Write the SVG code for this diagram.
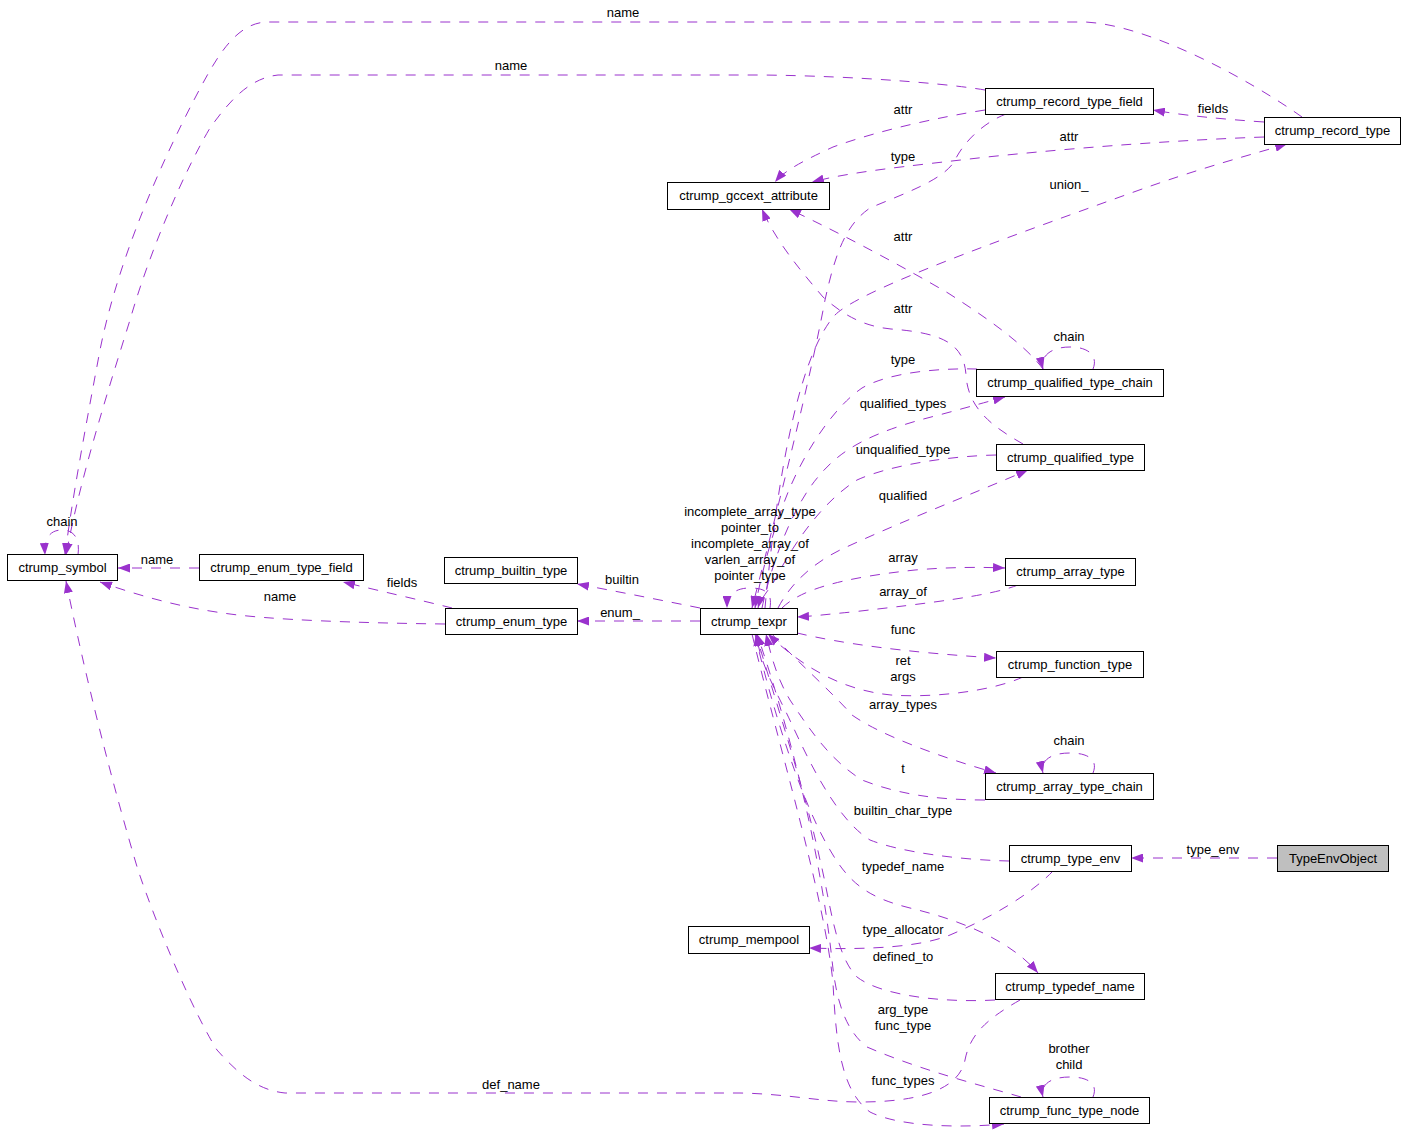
<svg xmlns="http://www.w3.org/2000/svg" width="1405" height="1137" viewBox="0 0 1405 1137">
<style>
.n rect{fill:#fff;stroke:#000;stroke-width:1}
.n text,.l text{font-family:"Liberation Sans",Arial,sans-serif;font-size:13px;fill:#000;text-anchor:middle}
.e path{fill:none;stroke:#9a32cd;stroke-width:1;stroke-dasharray:10,9;marker-end:url(#a)}
</style>
<defs>
<marker id="a" viewBox="0 0 12 9" refX="12" refY="4.5" markerWidth="12" markerHeight="9" markerUnits="userSpaceOnUse" orient="auto">
<path d="M0,0L12,4.5L0,9z" fill="#9a32cd" stroke="none"/>
</marker>
</defs>
<rect width="1405" height="1137" fill="#fff"/>
<g id="edges" class="e">
<path d="M1277,858 L1131,858"/>
<path d="M199,568 L118,568"/>
<path d="M700,621 L577,621"/>
<path d="M700,608 C660,600 620,592 577,584"/>
<path d="M452,608 C420,600 380,591 343,582"/>
<path d="M445,624 C360,623 268,620 223,613 C180,607 140,596 100,582"/>
<path d="M1302,117 C1250,80 1150,25 1085,22 L268,22 C235,22 215,60 195,98 C160,165 118,260 100,350 C85,430 72,500 65,555"/>
<path d="M985,90 C950,84 860,76 761,75 L278,75 C250,78 230,100 210,128 C185,170 150,250 130,320 C105,400 80,480 66,555"/>
<path d="M78,555 C80,540 75,530 62,530 C50,530 44,538 45,555"/>
<path d="M1020,1000 C985,1020 970,1035 965,1060 C960,1085 930,1102 860,1102 C820,1102 790,1094 740,1093 L285,1093 C255,1090 235,1070 217,1050 C195,1015 160,935 138,870 C120,810 90,700 66,581"/>
<path d="M1264,122 C1220,119 1180,115 1153,110"/>
<path d="M985,110 C940,117 880,130 833,147 C805,160 785,170 775,182"/>
<path d="M1264,137 C1180,140 1083,147 987,157 C900,167 850,172 812,182"/>
<path d="M1043,369 C1025,345 990,320 948,293 C905,268 850,238 789,209"/>
<path d="M1023,444 C995,428 968,410 966,375 C964,345 945,333 891,329 C860,326 840,312 823,297 C800,270 775,240 762,209"/>
<path d="M765,608 C775,500 795,360 835,315 C860,290 1000,240 1131,193 C1200,168 1250,155 1287,144"/>
<path d="M1006,114 C985,122 965,140 955,160 C945,180 900,195 870,208 C845,225 835,255 825,300 C810,380 780,500 752,608"/>
<path d="M1093,369 C1098,357 1090,347 1070,347 C1050,347 1040,357 1043,369"/>
<path d="M977,369 C940,368 890,372 862,388 C830,410 800,460 785,500 C770,540 760,580 755,608"/>
<path d="M762,608 C770,570 790,510 818,477 C840,450 870,432 939,415 C965,408 990,401 1005,397"/>
<path d="M996,455 C950,456 890,465 857,480 C825,500 795,540 775,580 C765,595 760,600 758,608"/>
<path d="M778,608 C790,585 810,565 840,550 C900,522 970,495 1028,470"/>
<path d="M782,608 C800,590 840,578 915,570 C950,567 980,567 1005,568"/>
<path d="M1018,585 C990,596 930,603 852,612 C830,614 815,616 797,617"/>
<path d="M770,608 C772,595 768,588 750,588 C735,588 727,595 727,608"/>
<path d="M797,633 C840,643 900,652 996,658"/>
<path d="M1023,677 C990,692 930,698 891,695 C840,690 800,665 768,634"/>
<path d="M772,634 C790,655 830,690 852,715 C880,735 940,757 996,773"/>
<path d="M1093,773 C1098,761 1090,753 1070,753 C1050,753 1040,761 1043,773"/>
<path d="M985,800 C940,800 900,795 862,780 C830,760 810,730 790,700 C778,680 772,660 766,634"/>
<path d="M1009,861 C960,860 900,852 870,840 C830,815 800,740 785,710 C770,680 760,660 756,634"/>
<path d="M755,634 C770,700 800,800 830,850 C850,885 870,898 910,908 C960,920 1010,940 1038,973"/>
<path d="M1053,871 C1030,895 990,918 950,935 C920,947 870,950 809,948"/>
<path d="M995,1000 C940,1003 880,995 857,977 C835,955 830,900 820,860 C805,790 775,700 756,634"/>
<path d="M1021,1097 C980,1085 920,1070 867,1047 C845,1030 836,1000 832,960 C820,850 790,730 757,634"/>
<path d="M752,634 C780,750 825,900 833,983 C836,1040 840,1090 870,1112 C900,1127 960,1128 1004,1124"/>
<path d="M1093,1097 C1098,1085 1090,1077 1070,1077 C1050,1077 1040,1085 1043,1097"/>
</g>
<g id="labels" class="l">
<text x="623" y="17">name</text>
<text x="511" y="70">name</text>
<text x="903" y="114">attr</text>
<text x="1213" y="113">fields</text>
<text x="1069" y="141">attr</text>
<text x="903" y="161">type</text>
<text x="1069" y="189">union_</text>
<text x="903" y="241">attr</text>
<text x="903" y="313">attr</text>
<text x="1069" y="341">chain</text>
<text x="903" y="364">type</text>
<text x="903" y="408">qualified_types</text>
<text x="903" y="454">unqualified_type</text>
<text x="903" y="500">qualified</text>
<text x="750" y="516">incomplete_array_type</text>
<text x="750" y="532">pointer_to</text>
<text x="750" y="548">incomplete_array_of</text>
<text x="750" y="564">varlen_array_of</text>
<text x="750" y="580">pointer_type</text>
<text x="62" y="526">chain</text>
<text x="903" y="562">array</text>
<text x="157" y="564">name</text>
<text x="622" y="584">builtin</text>
<text x="402" y="587">fields</text>
<text x="903" y="596">array_of</text>
<text x="280" y="601">name</text>
<text x="620" y="617">enum_</text>
<text x="903" y="634">func</text>
<text x="903" y="665">ret</text>
<text x="903" y="681">args</text>
<text x="903" y="709">array_types</text>
<text x="1069" y="745">chain</text>
<text x="903" y="773">t</text>
<text x="903" y="815">builtin_char_type</text>
<text x="1213" y="854">type_env</text>
<text x="903" y="871">typedef_name</text>
<text x="903" y="934">type_allocator</text>
<text x="903" y="961">defined_to</text>
<text x="903" y="1014">arg_type</text>
<text x="903" y="1030">func_type</text>
<text x="1069" y="1053">brother</text>
<text x="1069" y="1069">child</text>
<text x="903" y="1085">func_types</text>
<text x="511" y="1089">def_name</text>
</g>
<g id="n_symbol" class="n"><rect x="7.5" y="554.5" width="110" height="26"/><text x="62.5" y="572">ctrump_symbol</text></g>
<g id="n_enum_type_field" class="n"><rect x="199.5" y="554.5" width="164" height="26"/><text x="281.5" y="572">ctrump_enum_type_field</text></g>
<g id="n_builtin_type" class="n"><rect x="444.5" y="557.5" width="133" height="26"/><text x="511" y="575">ctrump_builtin_type</text></g>
<g id="n_enum_type" class="n"><rect x="445.5" y="608.5" width="132" height="26"/><text x="511.5" y="626">ctrump_enum_type</text></g>
<g id="n_texpr" class="n"><rect x="700.5" y="608.5" width="97" height="26"/><text x="749" y="626">ctrump_texpr</text></g>
<g id="n_gccext_attribute" class="n"><rect x="667.5" y="182.5" width="162" height="27"/><text x="748.5" y="200">ctrump_gccext_attribute</text></g>
<g id="n_record_type_field" class="n"><rect x="985.5" y="88.5" width="168" height="26"/><text x="1069.5" y="106">ctrump_record_type_field</text></g>
<g id="n_record_type" class="n"><rect x="1264.5" y="117.5" width="136" height="27"/><text x="1332.5" y="135">ctrump_record_type</text></g>
<g id="n_qualified_type_chain" class="n"><rect x="976.5" y="369.5" width="187" height="27"/><text x="1070" y="387">ctrump_qualified_type_chain</text></g>
<g id="n_qualified_type" class="n"><rect x="996.5" y="444.5" width="148" height="26"/><text x="1070.5" y="462">ctrump_qualified_type</text></g>
<g id="n_array_type" class="n"><rect x="1005.5" y="558.5" width="130" height="27"/><text x="1070.5" y="576">ctrump_array_type</text></g>
<g id="n_function_type" class="n"><rect x="996.5" y="651.5" width="147" height="26"/><text x="1070" y="669">ctrump_function_type</text></g>
<g id="n_array_type_chain" class="n"><rect x="985.5" y="773.5" width="168" height="26"/><text x="1069.5" y="791">ctrump_array_type_chain</text></g>
<g id="n_type_env" class="n"><rect x="1009.5" y="845.5" width="122" height="26"/><text x="1070.5" y="863">ctrump_type_env</text></g>
<g id="n_TypeEnvObject" class="n"><rect x="1277.5" y="845.5" width="111" height="26" style="fill:#bfbfbf"/><text x="1333" y="863">TypeEnvObject</text></g>
<g id="n_mempool" class="n"><rect x="688.5" y="926.5" width="121" height="27"/><text x="749" y="944">ctrump_mempool</text></g>
<g id="n_typedef_name" class="n"><rect x="995.5" y="973.5" width="149" height="26"/><text x="1070" y="991">ctrump_typedef_name</text></g>
<g id="n_func_type_node" class="n"><rect x="989.5" y="1097.5" width="160" height="26"/><text x="1069.5" y="1115">ctrump_func_type_node</text></g>
</svg>
